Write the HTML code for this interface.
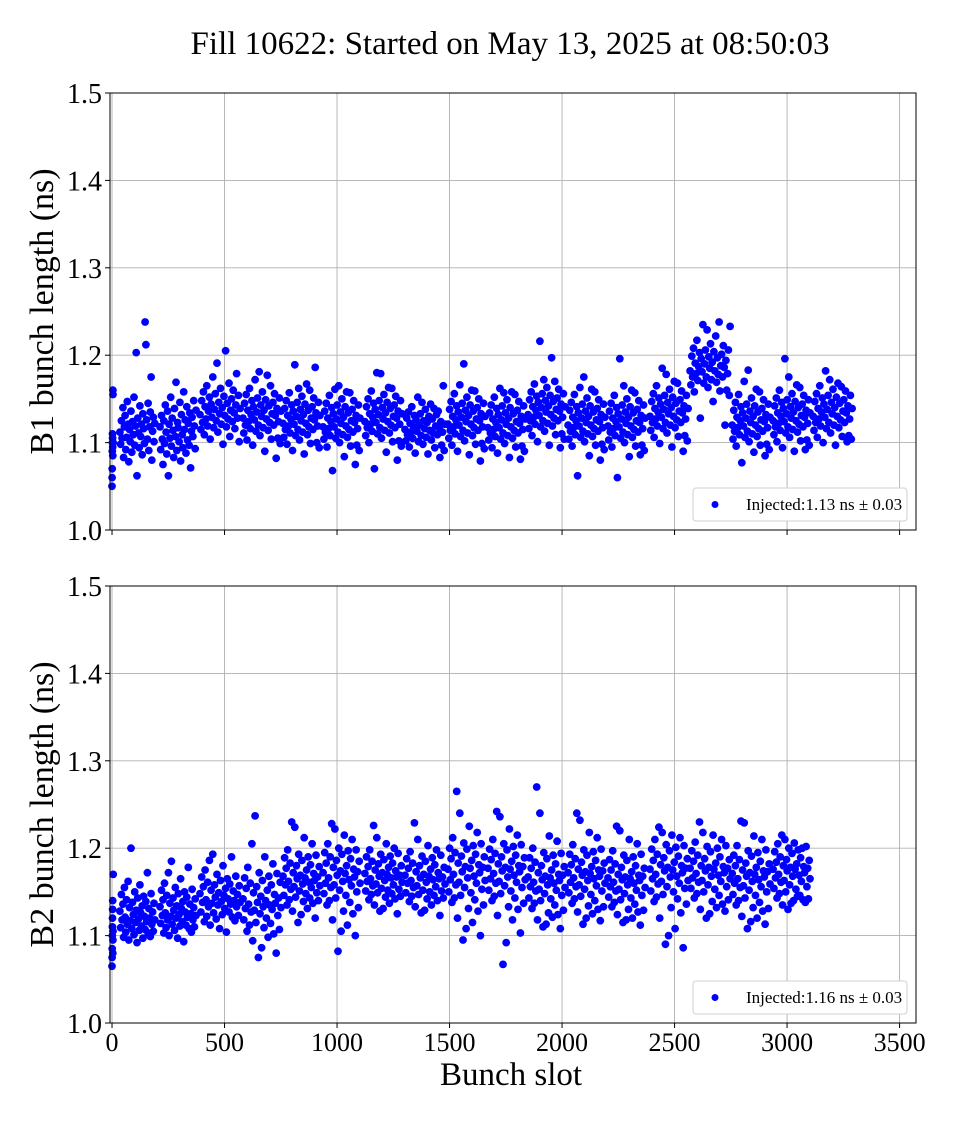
<!DOCTYPE html>
<html><head><meta charset="utf-8"><style>
body{margin:0;background:#fff;}
svg text{font-family:"Liberation Serif",serif;fill:#000;}
</style></head><body>
<svg id="fig" width="960" height="1120" viewBox="0 0 960 1120" xmlns="http://www.w3.org/2000/svg">
<rect width="960" height="1120" fill="#fff"/>
<text x="510" y="54" font-size="33" text-anchor="middle">Fill 10622: Started on May 13, 2025 at 08:50:03</text>
<text x="511" y="1085" font-size="33" text-anchor="middle">Bunch slot</text>
</svg>
<script>
const xTicks=[0,500,1000,1500,2000,2500,3000,3500];
const yTicks=[1.0,1.1,1.2,1.3,1.4,1.5];
const yTickLabels=["1.0","1.1","1.2","1.3","1.4","1.5"];
const b1Starts=[0,35,213,391,582,760,938,1124,1302,1493,1671,1849,2027,2204,2391,2569,2756,2938,3116];
const b1Ends=[5,190,373,569,751,924,1102,1289,1480,1658,1836,2013,2191,2369,2560,2747,2924,3102,3289];
const b2Starts=[0,35,213,391,582,760,938,1124,1302,1493,1671,1849,2027,2204,2391,2569,2756,2938];
const b2Ends=[5,190,373,569,751,924,1102,1289,1480,1658,1836,2013,2191,2369,2560,2747,2924,3102];
const b1Values=[
[1.05,1.06,1.07,1.09,1.10,1.11,1.105,1.095,1.085,1.16,1.155,1.10],
[1.112,1.098,1.125,1.105,1.14,1.083,1.118,1.131,1.092,1.106,1.147,1.121,1.078,1.115,1.101,1.136,1.089,1.124,1.109,1.152,1.097,1.119,1.203,1.062,1.128,1.111,1.094,1.142,1.107,1.121,1.086,1.133,1.116,1.099,1.238,1.212,1.126,1.104,1.145,1.091,1.118,1.135,1.175,1.08,1.113,1.129,1.101,1.122],
[1.118,1.092,1.131,1.104,1.075,1.125,1.099,1.143,1.112,1.087,1.136,1.062,1.121,1.105,1.152,1.096,1.128,1.114,1.083,1.139,1.107,1.169,1.091,1.123,1.117,1.101,1.146,1.079,1.132,1.109,1.094,1.158,1.115,1.126,1.088,1.141,1.103,1.122,1.097,1.134,1.071,1.113,1.129,1.107,1.148,1.119,1.093,1.137],
[1.132,1.115,1.148,1.123,1.158,1.109,1.141,1.127,1.165,1.119,1.136,1.152,1.104,1.144,1.129,1.175,1.117,1.138,1.156,1.125,1.191,1.112,1.146,1.133,1.162,1.121,1.14,1.098,1.153,1.131,1.205,1.118,1.145,1.127,1.168,1.107,1.137,1.15,1.124,1.16,1.134,1.116,1.143,1.179,1.128,1.154,1.101,1.139],
[1.128,1.111,1.145,1.12,1.155,1.103,1.137,1.124,1.162,1.116,1.132,1.148,1.097,1.141,1.126,1.172,1.113,1.135,1.151,1.12,1.181,1.108,1.143,1.13,1.158,1.117,1.137,1.09,1.149,1.127,1.177,1.114,1.142,1.123,1.165,1.104,1.133,1.146,1.12,1.156,1.131,1.082,1.139,1.105,1.124,1.151,1.099,1.136],
[1.122,1.106,1.139,1.115,1.148,1.098,1.131,1.119,1.157,1.111,1.127,1.143,1.091,1.136,1.121,1.189,1.108,1.13,1.146,1.115,1.162,1.103,1.138,1.125,1.153,1.112,1.132,1.087,1.144,1.122,1.167,1.109,1.137,1.118,1.16,1.099,1.128,1.141,1.115,1.151,1.126,1.186,1.134,1.1,1.119,1.146,1.094,1.131],
[1.118,1.104,1.136,1.112,1.145,1.095,1.128,1.116,1.154,1.108,1.124,1.14,1.068,1.133,1.118,1.161,1.105,1.127,1.143,1.112,1.165,1.1,1.135,1.122,1.15,1.109,1.129,1.084,1.141,1.119,1.158,1.106,1.134,1.115,1.157,1.096,1.125,1.138,1.112,1.148,1.123,1.075,1.131,1.097,1.116,1.143,1.091,1.128],
[1.124,1.108,1.141,1.117,1.15,1.1,1.133,1.121,1.159,1.113,1.129,1.145,1.07,1.138,1.123,1.18,1.11,1.132,1.148,1.117,1.179,1.105,1.14,1.127,1.155,1.114,1.134,1.089,1.146,1.124,1.163,1.111,1.139,1.12,1.162,1.101,1.13,1.143,1.117,1.153,1.128,1.08,1.136,1.102,1.121,1.148,1.096,1.133],
[1.115,1.102,1.128,1.109,1.135,1.095,1.122,1.112,1.141,1.105,1.118,1.131,1.088,1.126,1.113,1.152,1.101,1.12,1.133,1.108,1.146,1.098,1.125,1.116,1.138,1.106,1.123,1.087,1.13,1.114,1.144,1.103,1.127,1.111,1.139,1.094,1.119,1.132,1.109,1.136,1.117,1.083,1.124,1.097,1.112,1.165,1.091,1.121],
[1.121,1.105,1.138,1.114,1.147,1.097,1.13,1.118,1.156,1.11,1.126,1.142,1.09,1.135,1.12,1.166,1.107,1.129,1.145,1.114,1.19,1.102,1.137,1.124,1.152,1.111,1.131,1.086,1.143,1.121,1.16,1.108,1.136,1.117,1.159,1.098,1.127,1.14,1.114,1.15,1.125,1.079,1.133,1.099,1.118,1.145,1.093,1.13],
[1.117,1.103,1.134,1.111,1.143,1.094,1.127,1.115,1.152,1.107,1.123,1.139,1.088,1.132,1.117,1.162,1.104,1.126,1.142,1.111,1.157,1.099,1.134,1.121,1.149,1.108,1.128,1.083,1.14,1.118,1.158,1.105,1.133,1.114,1.155,1.095,1.124,1.137,1.111,1.147,1.122,1.081,1.13,1.096,1.115,1.142,1.09,1.127],
[1.132,1.116,1.149,1.125,1.158,1.108,1.141,1.129,1.167,1.121,1.137,1.153,1.101,1.146,1.131,1.216,1.118,1.14,1.156,1.125,1.172,1.113,1.148,1.135,1.163,1.122,1.142,1.097,1.154,1.132,1.197,1.119,1.147,1.128,1.17,1.109,1.138,1.151,1.125,1.161,1.136,1.094,1.144,1.11,1.129,1.156,1.104,1.141],
[1.12,1.104,1.137,1.113,1.146,1.096,1.129,1.117,1.155,1.109,1.125,1.141,1.062,1.134,1.119,1.163,1.106,1.128,1.144,1.113,1.175,1.101,1.136,1.123,1.151,1.11,1.13,1.085,1.142,1.12,1.161,1.107,1.135,1.116,1.158,1.097,1.126,1.139,1.113,1.149,1.124,1.08,1.132,1.098,1.117,1.144,1.092,1.129],
[1.119,1.103,1.136,1.112,1.145,1.095,1.128,1.116,1.154,1.108,1.124,1.14,1.06,1.133,1.118,1.196,1.105,1.127,1.143,1.112,1.165,1.1,1.135,1.122,1.15,1.109,1.129,1.084,1.141,1.119,1.16,1.106,1.134,1.115,1.157,1.096,1.125,1.138,1.112,1.148,1.123,1.086,1.131,1.097,1.116,1.143,1.091,1.128],
[1.13,1.114,1.147,1.123,1.156,1.106,1.139,1.127,1.165,1.119,1.135,1.151,1.099,1.144,1.129,1.185,1.116,1.138,1.154,1.123,1.178,1.111,1.146,1.133,1.161,1.12,1.14,1.095,1.152,1.13,1.17,1.117,1.145,1.126,1.168,1.107,1.136,1.149,1.123,1.159,1.134,1.09,1.142,1.108,1.127,1.154,1.102,1.139],
[1.182,1.166,1.199,1.175,1.208,1.158,1.191,1.179,1.217,1.171,1.187,1.203,1.128,1.196,1.181,1.235,1.168,1.19,1.206,1.175,1.229,1.163,1.198,1.185,1.213,1.172,1.192,1.147,1.204,1.182,1.222,1.169,1.197,1.178,1.238,1.159,1.188,1.201,1.175,1.211,1.186,1.12,1.194,1.16,1.179,1.206,1.154,1.233],
[1.12,1.104,1.137,1.113,1.146,1.096,1.129,1.117,1.155,1.109,1.125,1.141,1.077,1.134,1.119,1.17,1.106,1.128,1.144,1.113,1.183,1.101,1.136,1.123,1.151,1.11,1.13,1.089,1.142,1.12,1.161,1.107,1.135,1.116,1.158,1.097,1.126,1.139,1.113,1.149,1.124,1.085,1.132,1.098,1.117,1.144,1.092,1.129],
[1.125,1.109,1.142,1.118,1.151,1.101,1.134,1.122,1.16,1.114,1.13,1.146,1.094,1.139,1.124,1.196,1.111,1.133,1.149,1.118,1.175,1.106,1.141,1.128,1.156,1.115,1.135,1.09,1.147,1.125,1.166,1.112,1.14,1.121,1.163,1.102,1.131,1.144,1.118,1.154,1.129,1.092,1.137,1.103,1.122,1.149,1.097,1.134],
[1.13,1.114,1.147,1.123,1.156,1.106,1.139,1.127,1.165,1.119,1.135,1.151,1.1,1.144,1.129,1.182,1.116,1.138,1.154,1.123,1.172,1.111,1.146,1.133,1.161,1.12,1.14,1.097,1.152,1.13,1.168,1.117,1.145,1.126,1.164,1.107,1.136,1.149,1.123,1.159,1.134,1.101,1.142,1.108,1.127,1.154,1.104,1.139]
];
const b2Values=[
[1.065,1.075,1.085,1.10,1.11,1.12,1.13,1.14,1.08,1.095,1.105,1.17],
[1.128,1.109,1.147,1.118,1.136,1.098,1.155,1.121,1.104,1.141,1.113,1.162,1.095,1.132,1.117,1.2,1.108,1.138,1.124,1.101,1.15,1.115,1.129,1.092,1.143,1.119,1.106,1.158,1.126,1.111,1.134,1.097,1.145,1.122,1.107,1.139,1.116,1.172,1.103,1.131,1.12,1.099,1.148,1.113,1.127,1.105,1.137,1.118],
[1.133,1.114,1.152,1.123,1.141,1.103,1.16,1.126,1.109,1.146,1.118,1.172,1.1,1.137,1.122,1.185,1.113,1.143,1.129,1.106,1.155,1.12,1.134,1.097,1.148,1.124,1.111,1.165,1.131,1.116,1.139,1.093,1.15,1.127,1.112,1.144,1.121,1.178,1.108,1.136,1.125,1.104,1.153,1.118,1.132,1.11,1.142,1.123],
[1.148,1.127,1.167,1.138,1.156,1.116,1.175,1.141,1.122,1.161,1.133,1.186,1.112,1.152,1.137,1.193,1.126,1.158,1.144,1.119,1.17,1.135,1.149,1.108,1.163,1.139,1.124,1.18,1.146,1.131,1.154,1.104,1.165,1.142,1.127,1.159,1.136,1.19,1.121,1.151,1.14,1.117,1.168,1.133,1.147,1.123,1.157,1.138],
[1.142,1.118,1.166,1.131,1.154,1.105,1.178,1.136,1.112,1.16,1.127,1.205,1.094,1.149,1.129,1.237,1.115,1.156,1.138,1.075,1.172,1.125,1.145,1.086,1.163,1.133,1.109,1.19,1.14,1.12,1.152,1.098,1.168,1.135,1.114,1.158,1.13,1.182,1.102,1.147,1.137,1.08,1.171,1.123,1.143,1.107,1.161,1.132],
[1.168,1.146,1.189,1.158,1.177,1.135,1.198,1.162,1.141,1.183,1.153,1.23,1.128,1.172,1.156,1.224,1.144,1.18,1.165,1.115,1.193,1.151,1.169,1.124,1.186,1.159,1.139,1.212,1.166,1.148,1.175,1.131,1.19,1.161,1.143,1.181,1.155,1.205,1.137,1.171,1.163,1.12,1.192,1.149,1.167,1.14,1.179,1.157],
[1.172,1.148,1.195,1.16,1.183,1.135,1.205,1.166,1.14,1.19,1.155,1.228,1.118,1.178,1.158,1.222,1.143,1.186,1.169,1.082,1.2,1.152,1.174,1.105,1.193,1.162,1.128,1.215,1.171,1.146,1.18,1.112,1.197,1.164,1.138,1.188,1.157,1.21,1.125,1.176,1.167,1.1,1.198,1.15,1.173,1.132,1.185,1.16],
[1.171,1.151,1.19,1.162,1.179,1.141,1.198,1.165,1.147,1.185,1.157,1.226,1.135,1.175,1.159,1.212,1.149,1.182,1.168,1.128,1.193,1.154,1.172,1.131,1.187,1.163,1.144,1.205,1.17,1.152,1.178,1.137,1.191,1.166,1.148,1.183,1.158,1.2,1.142,1.174,1.167,1.125,1.194,1.153,1.169,1.145,1.18,1.161],
[1.169,1.149,1.188,1.16,1.177,1.139,1.196,1.163,1.145,1.183,1.155,1.229,1.133,1.173,1.157,1.21,1.147,1.18,1.166,1.126,1.191,1.152,1.17,1.129,1.185,1.161,1.142,1.203,1.168,1.15,1.176,1.135,1.189,1.164,1.146,1.181,1.156,1.198,1.14,1.172,1.165,1.123,1.192,1.151,1.167,1.143,1.178,1.159],
[1.176,1.15,1.2,1.164,1.188,1.138,1.212,1.17,1.143,1.195,1.158,1.265,1.12,1.183,1.161,1.24,1.146,1.191,1.173,1.095,1.206,1.155,1.179,1.108,1.199,1.166,1.131,1.225,1.177,1.149,1.186,1.115,1.203,1.168,1.141,1.193,1.16,1.218,1.128,1.181,1.172,1.1,1.205,1.153,1.178,1.135,1.19,1.163],
[1.177,1.152,1.199,1.165,1.187,1.14,1.21,1.171,1.145,1.194,1.16,1.242,1.123,1.182,1.162,1.236,1.148,1.19,1.174,1.067,1.205,1.157,1.178,1.092,1.198,1.167,1.133,1.222,1.176,1.151,1.185,1.118,1.202,1.169,1.143,1.192,1.161,1.215,1.13,1.18,1.173,1.103,1.204,1.155,1.179,1.137,1.189,1.164],
[1.167,1.143,1.189,1.156,1.177,1.131,1.2,1.161,1.137,1.184,1.151,1.27,1.118,1.172,1.153,1.24,1.14,1.18,1.164,1.11,1.195,1.148,1.168,1.113,1.188,1.158,1.126,1.214,1.166,1.142,1.175,1.121,1.192,1.16,1.135,1.182,1.152,1.208,1.124,1.17,1.163,1.108,1.194,1.146,1.169,1.129,1.179,1.155],
[1.172,1.149,1.193,1.161,1.181,1.137,1.204,1.166,1.142,1.188,1.156,1.24,1.127,1.176,1.158,1.232,1.145,1.184,1.169,1.113,1.198,1.153,1.173,1.12,1.192,1.163,1.134,1.218,1.171,1.147,1.179,1.125,1.196,1.165,1.14,1.186,1.157,1.212,1.13,1.175,1.168,1.117,1.199,1.151,1.174,1.133,1.183,1.16],
[1.166,1.144,1.187,1.156,1.175,1.133,1.197,1.161,1.138,1.182,1.151,1.225,1.124,1.17,1.153,1.22,1.141,1.178,1.164,1.115,1.192,1.148,1.167,1.118,1.186,1.158,1.13,1.21,1.165,1.143,1.173,1.12,1.19,1.16,1.136,1.18,1.152,1.205,1.127,1.169,1.163,1.112,1.193,1.146,1.168,1.129,1.177,1.155],
[1.176,1.151,1.199,1.165,1.186,1.139,1.21,1.17,1.144,1.193,1.159,1.224,1.12,1.181,1.162,1.218,1.147,1.189,1.174,1.09,1.204,1.156,1.178,1.1,1.197,1.167,1.132,1.215,1.175,1.15,1.184,1.108,1.201,1.168,1.142,1.191,1.16,1.212,1.126,1.18,1.172,1.086,1.203,1.154,1.177,1.136,1.188,1.163],
[1.177,1.154,1.197,1.166,1.185,1.143,1.207,1.171,1.148,1.192,1.161,1.23,1.13,1.18,1.163,1.218,1.15,1.188,1.174,1.12,1.202,1.158,1.178,1.125,1.196,1.168,1.139,1.215,1.176,1.153,1.183,1.132,1.2,1.169,1.146,1.19,1.162,1.21,1.136,1.179,1.172,1.128,1.203,1.156,1.177,1.141,1.187,1.165],
[1.171,1.147,1.192,1.16,1.18,1.135,1.203,1.165,1.14,1.187,1.155,1.231,1.122,1.175,1.157,1.229,1.143,1.183,1.168,1.108,1.197,1.152,1.172,1.116,1.191,1.162,1.132,1.214,1.17,1.146,1.178,1.12,1.195,1.164,1.138,1.185,1.156,1.21,1.128,1.174,1.167,1.113,1.198,1.15,1.173,1.131,1.182,1.159],
[1.176,1.154,1.196,1.166,1.184,1.143,1.205,1.17,1.148,1.19,1.161,1.215,1.135,1.18,1.163,1.21,1.15,1.187,1.174,1.13,1.2,1.158,1.178,1.137,1.194,1.168,1.14,1.206,1.176,1.153,1.182,1.145,1.198,1.169,1.146,1.189,1.162,1.2,1.141,1.179,1.172,1.138,1.202,1.156,1.177,1.142,1.186,1.165]
];
const legendLabels=["Injected:1.13 ns \u00b1 0.03","Injected:1.16 ns \u00b1 0.03"];
const yLabels=["B1 bunch length (ns)","B2 bunch length (ns)"];

const NS="http://www.w3.org/2000/svg";
const svg=document.getElementById('fig');
const X0=110,X1=916,XMIN=-9,XMAX=3573,YMIN=1.0,YMAX=1.5;
function mk(tag,attrs,parent){const e=document.createElementNS(NS,tag);for(const k in attrs)e.setAttribute(k,attrs[k]);(parent||svg).appendChild(e);return e;}
function panel(idx,top,bottom,starts,ends,values,showXLabels){
  const g=mk('g',{});
  
  
  const xs=v=>X0+(v-XMIN)/(XMAX-XMIN)*(X1-X0);
  const ys=v=>bottom-(v-YMIN)/(YMAX-YMIN)*(bottom-top);
  for(const t of xTicks){const x=xs(t);
    const l=mk('line',{x1:x,x2:x,y1:top,y2:bottom,stroke:'#b0b0b0','stroke-width':0.9},g);
    
    const tk=mk('line',{x1:x,x2:x,y1:bottom,y2:bottom+5,stroke:'#000','stroke-width':1},g);
    
    if(showXLabels){const tx=mk('text',{x:x,y:bottom+28,'font-size':26,'text-anchor':'middle'},g);tx.textContent=String(t);
      }
  }
  yTicks.forEach((t,i)=>{const y=ys(t);
    const l=mk('line',{x1:X0,x2:X1,y1:y,y2:y,stroke:'#b0b0b0','stroke-width':0.9},g);
    
    const tk=mk('line',{x1:X0-5,x2:X0,y1:y,y2:y,stroke:'#000','stroke-width':1},g);
    
    const tx=mk('text',{x:X0-8,y:y+10,'font-size':28,'text-anchor':'end'},g);tx.textContent=yTickLabels[i];
    
  });
  const pts=mk('g',{fill:'#0000ff'},g);
  
  
  values.forEach((arr,ti)=>{const n=arr.length;
    arr.forEach((v,i)=>{const s=starts[ti]+(ends[ti]-starts[ti])*(n>1?i/(n-1):0);
      const c=mk('circle',{cx:xs(s).toFixed(1),cy:ys(v).toFixed(1),r:3.9},pts);
      
      
    });
  });
  const fr=mk('rect',{x:X0,y:top,width:X1-X0,height:bottom-top,fill:'none',stroke:'#000','stroke-width':1},g);
  
  const yl=mk('text',{x:0,y:0,'font-size':34,'text-anchor':'middle',transform:`translate(53,${(top+bottom)/2}) rotate(-90)`},g);
  yl.textContent=yLabels[idx];
  
  const lg=mk('g',{},g);
  
  mk('rect',{x:693,y:bottom-42,width:214,height:33,rx:3,fill:'#fff',stroke:'#d0d0d0','stroke-width':1},lg);
  const lm=mk('circle',{cx:715,cy:bottom-25.5,r:3.5,fill:'#0000ff'},lg);
  
  const lt=mk('text',{x:746,y:bottom-20,'font-size':17},lg);lt.textContent=legendLabels[idx];
  
}
panel(0,93,530,b1Starts,b1Ends,b1Values,false);
panel(1,586,1023,b2Starts,b2Ends,b2Values,true);
</script>
</body></html>
